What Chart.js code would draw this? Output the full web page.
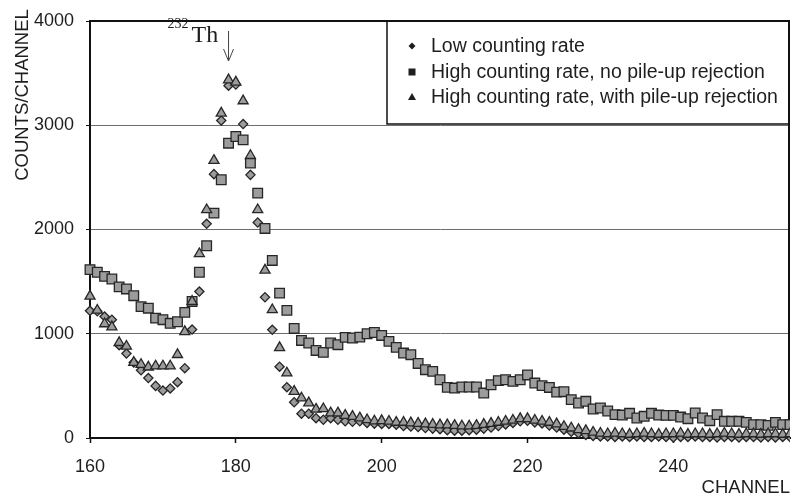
<!DOCTYPE html>
<html>
<head>
<meta charset="utf-8">
<script src="https://cdn.jsdelivr.net/npm/chart.js@4.4.0/dist/chart.umd.min.js"></script>
<style>
  html, body { margin: 0; padding: 0; background: #fff; overflow: hidden; }
  #spectrumChart { display: block; }
</style>
</head>
<body>
<canvas id="spectrumChart" width="791" height="495"></canvas>
<script>
// Kanal (sumbu X)
const channels = [
  160, 161, 162, 163, 164, 165, 166, 167, 168, 169,
  170, 171, 172, 173, 174, 175, 176, 177, 178, 179,
  180, 181, 182, 183, 184, 185, 186, 187, 188, 189,
  190, 191, 192, 193, 194, 195, 196, 197, 198, 199,
  200, 201, 202, 203, 204, 205, 206, 207, 208, 209,
  210, 211, 212, 213, 214, 215, 216, 217, 218, 219,
  220, 221, 222, 223, 224, 225, 226, 227, 228, 229,
  230, 231, 232, 233, 234, 235, 236, 237, 238, 239,
  240, 241, 242, 243, 244, 245, 246, 247, 248, 249,
  250, 251, 252, 253, 254, 255, 256
];

// Low counting rate (diamond)
const lowRate = [
  1220, 1215, 1165, 1135, 890, 810, 725, 650, 575, 500,
  455, 475, 535, 670, 1040, 1405, 2055, 2531, 3045, 3380,
  3390, 3011, 2524, 2067, 1350, 1038, 684, 487, 343, 233,
  233, 190, 175, 190, 175, 160, 155, 160, 145, 138,
  135, 135, 128, 115, 110, 105, 95, 90, 85, 75,
  70, 70, 75, 80, 90, 100, 115, 130, 145, 160,
  165, 150, 140, 120, 100, 80, 60, 45, 30, 20,
  15, 15, 10, 15, 10, 15, 10, 10, 15, 10,
  5, 10, 10, 15, 10, 10, 5, 10, 10, 5,
  10, 10, 5, 10, 5, 10, 10
];

// High counting rate, no pile-up rejection (square)
const highNoReject = [
  1615, 1590, 1550, 1525, 1450, 1430, 1365, 1260, 1245, 1150,
  1135, 1100, 1115, 1205, 1310, 1590, 1844, 2157, 2477, 2828,
  2892, 2860, 2637, 2349, 2010, 1703, 1390, 1224, 1051, 936,
  911, 840, 821, 911, 895, 965, 959, 968, 1000, 1012,
  984, 927, 869, 815, 799, 715, 655, 639, 559, 486,
  479, 489, 489, 489, 431, 511, 550, 559, 543, 559,
  605, 527, 502, 485, 440, 444, 368, 336, 352, 278,
  288, 259, 224, 220, 237, 192, 208, 237, 220, 217,
  217, 201, 185, 240, 192, 166, 224, 160, 160, 160,
  150, 128, 128, 121, 150, 128, 128
];

// High counting rate, with pile-up rejection (triangle)
const highWithReject = [
  1360, 1225, 1095, 1065, 915, 880, 725, 705, 680, 690,
  690, 690, 800, 1020, 1310, 1767, 2189, 2662, 3116, 3435,
  3413, 3234, 2709, 2189, 1610, 1230, 866, 623, 447, 383,
  336, 276, 280, 240, 240, 217, 207, 192, 175, 163,
  166, 160, 150, 150, 145, 140, 135, 130, 125, 125,
  120, 115, 115, 120, 130, 140, 150, 160, 170, 185,
  185, 170, 160, 150, 135, 110, 95, 80, 70, 55,
  45, 40, 45, 40, 35, 40, 45, 40, 35, 40,
  40, 45, 35, 40, 40, 35, 40, 45, 40, 35,
  40, 40, 35, 40, 40, 35, 40
];

const xTicks = [160, 180, 200, 220, 240];
const yTicks = [0, 1000, 2000, 3000, 4000];

const legendLabels = [
  "Low counting rate",
  "High counting rate, no pile-up rejection",
  "High counting rate, with pile-up rejection"
];

const markerFill = "#9c9c9c";
const markerLine = "#262626";

function toPoints(values) {
  return values.map((v, i) => ({ x: channels[i], y: v }));
}

// Bingkai, legenda, judul sumbu dan anotasi 232Th
const decorPlugin = {
  id: "decor",
  beforeDatasetsDraw(chart) {
    const { ctx, chartArea: a } = chart;
    ctx.save();
    ctx.strokeStyle = "#111";
    ctx.lineWidth = 2;
    ctx.beginPath();
    ctx.moveTo(a.left, a.top);
    ctx.lineTo(a.right - 1, a.top);
    ctx.lineTo(a.right - 1, a.bottom);
    ctx.stroke();

    // kotak legenda
    const bx = a.right - 403;
    const by = a.top + 103;
    ctx.fillStyle = "#fff";
    ctx.fillRect(bx, a.top + 1, a.right - bx - 2, by - a.top - 1);
    ctx.lineWidth = 1.5;
    ctx.beginPath();
    ctx.moveTo(bx, a.top);
    ctx.lineTo(bx, by);
    ctx.lineTo(a.right, by);
    ctx.stroke();
    ctx.restore();
  },
  afterDraw(chart) {
    const { ctx, chartArea: a } = chart;
    ctx.save();
    ctx.fillStyle = "#1e1e1e";

    // legenda
    const mx = a.right - 378;
    const tx = a.right - 359;
    const rows = [a.top + 25, a.top + 51, a.top + 76];
    ctx.font = "19.5px 'Liberation Sans', Arial, sans-serif";
    ctx.textBaseline = "middle";
    ctx.textAlign = "left";
    legendLabels.forEach((label, i) => {
      const y = rows[i];
      ctx.beginPath();
      if (i === 0) {
        ctx.moveTo(mx - 3.5, y); ctx.lineTo(mx, y - 3.5);
        ctx.lineTo(mx + 3.5, y); ctx.lineTo(mx, y + 3.5);
      } else if (i === 1) {
        ctx.rect(mx - 3.5, y - 3.5, 7, 7);
      } else {
        ctx.moveTo(mx, y - 4); ctx.lineTo(mx + 4, y + 3);
        ctx.lineTo(mx - 4, y + 3);
      }
      ctx.closePath();
      ctx.fill();
      ctx.fillText(label, tx, y + 1);
    });

    // judul sumbu Y
    ctx.font = "18.5px 'Liberation Sans', Arial, sans-serif";
    ctx.textBaseline = "alphabetic";
    ctx.save();
    ctx.translate(28, 95);
    ctx.rotate(-Math.PI / 2);
    ctx.textAlign = "center";
    ctx.fillText("COUNTS/CHANNEL", 0, 0);
    ctx.restore();

    // judul sumbu X
    ctx.textAlign = "right";
    ctx.fillText("CHANNEL", a.right, 493);

    // anotasi 232Th
    const ax = chart.scales.x.getPixelForValue(179);
    ctx.textAlign = "left";
    ctx.font = "14px 'Liberation Serif', 'Times New Roman', serif";
    ctx.fillText("232", ax - 61, a.top + 7);
    ctx.font = "24px 'Liberation Serif', 'Times New Roman', serif";
    ctx.fillText("Th", ax - 37, a.top + 21);

    ctx.strokeStyle = "#444";
    ctx.lineWidth = 1;
    ctx.beginPath();
    ctx.moveTo(ax, a.top + 10);
    ctx.lineTo(ax, a.top + 40);
    ctx.moveTo(ax - 5, a.top + 28);
    ctx.lineTo(ax, a.top + 40);
    ctx.lineTo(ax + 5, a.top + 28);
    ctx.stroke();
    ctx.restore();
  }
};

const baseSet = {
  showLine: false,
  backgroundColor: markerFill,
  borderColor: markerLine,
  borderWidth: 1.3,
  clip: { left: 10, top: 10, right: 0, bottom: 10 }
};

const tickFont = { family: "'Liberation Sans', Arial, sans-serif", size: 18 };

const ctx = document.getElementById("spectrumChart").getContext("2d");
new Chart(ctx, {
  type: "scatter",
  data: {
    datasets: [
      { ...baseSet, label: legendLabels[0], data: toPoints(lowRate), pointStyle: "rectRot", pointRadius: 4.6, order: 3 },
      { ...baseSet, label: legendLabels[1], data: toPoints(highNoReject), pointStyle: "rect", pointRadius: 6.8, order: 2 },
      { ...baseSet, label: legendLabels[2], data: toPoints(highWithReject), pointStyle: "triangle", pointRadius: 5.8, order: 1 }
    ]
  },
  options: {
    responsive: false,
    animation: false,
    events: [],
    layout: { autoPadding: false, padding: { left: 0, right: 1, top: 21, bottom: 0 } },
    plugins: {
      legend: { display: false },
      tooltip: { enabled: false }
    },
    scales: {
      x: {
        type: "linear",
        min: 160,
        max: 256,
        afterBuildTicks: (scale) => { scale.ticks = xTicks.map((v) => ({ value: v })); },
        afterFit: (scale) => {
          scale.height = 57;
          scale.paddingLeft = 0;
          scale.paddingRight = 0;
        },
        grid: { drawOnChartArea: false, tickLength: 5, tickColor: "#111", tickWidth: 1.5 },
        border: { color: "#111", width: 2 },
        ticks: { padding: 13, color: "#1e1e1e", font: tickFont, callback: (v) => String(v) }
      },
      y: {
        min: 0,
        max: 4000,
        afterBuildTicks: (scale) => { scale.ticks = yTicks.map((v) => ({ value: v })); },
        afterFit: (scale) => {
          scale.width = 90;
          scale.paddingTop = 0;
          scale.paddingBottom = 0;
        },
        grid: { color: "#6e6e6e", lineWidth: 1, tickLength: 4, tickColor: "#111" },
        border: { color: "#111", width: 2 },
        ticks: { padding: 12, color: "#1e1e1e", font: tickFont, callback: (v) => String(v) }
      }
    }
  },
  plugins: [decorPlugin]
});
</script>
</body>
</html>
